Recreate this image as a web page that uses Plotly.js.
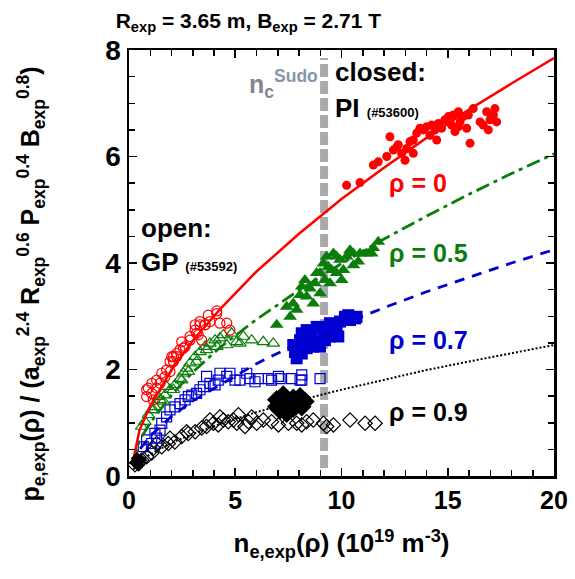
<!DOCTYPE html>
<html><head><meta charset="utf-8">
<script src="https://cdn.plot.ly/plotly-3.0.1.min.js"></script>
<style>html,body{margin:0;padding:0;background:#fff}#plot{width:575px;height:579px}</style>
</head><body><div id="plot"></div>
<script>
// ---- fit curves ----
const fitX = [0.2, 0.5, 1, 2, 3, 4.3, 6, 8, 10, 12, 14, 16, 18, 20];
const fitRho0  = [0.30, 0.87, 1.32, 1.99, 2.54, 3.14, 3.84, 4.55, 5.20, 5.79, 6.35, 6.88, 7.37, 7.85];
const fitRho05 = [0.25, 0.67, 1.00, 1.52, 1.95, 2.42, 2.94, 3.49, 3.99, 4.45, 4.88, 5.29, 5.68, 6.05];
const fitRho07 = [0.20, 0.50, 0.75, 1.12, 1.41, 1.72, 2.11, 2.50, 2.84, 3.16, 3.46, 3.73, 4.00, 4.25];
const fitRho09 = [0.12, 0.27, 0.41, 0.62, 0.79, 0.98, 1.20, 1.42, 1.62, 1.81, 1.99, 2.15, 2.31, 2.46];

// ---- Sudo limit line ----
const sudoX = [9.18, 9.18];
const sudoY = [0.15, 7.85];

// ---- GP (#53592), open symbols ----
const gp0X = [4.13,3.81,3.58,3.34,3.11,3.26,2.87,3.42,2.64,2.40,2.24,2.01,2.09,4.13,3.73,3.34,3.58,3.11,4.28,4.75,4.60,3.18,2.87,2.48,2.56,2.24,2.09,1.93,1.77,1.54,1.30,1.07,0.91,0.83,0.83,1.07,1.30,1.14,1.46,1.69,1.93];
const gp0Y = [3.10,2.90,2.84,2.84,2.74,2.65,2.55,2.55,2.43,2.37,2.24,2.24,2.15,3.05,3.02,2.90,2.84,2.84,2.87,2.74,2.87,2.68,2.62,2.52,2.40,2.30,2.24,2.15,1.99,1.93,1.80,1.74,1.65,1.62,1.49,1.55,1.65,1.43,1.74,1.86,1.96];

const gp05X = [6.79,6.32,5.77,5.38,5.07,4.83,4.44,4.28,4.05,3.81,3.58,3.34,3.11,2.87,2.71,2.56,2.40,2.16,1.93,1.69,1.46,1.22,1.07,0.91,0.75,0.60,5.22,4.60,4.13,3.65,3.18,2.79,2.48,2.09,1.62,1.15,1.38,1.77];
const gp05Y = [2.49,2.52,2.55,2.62,2.52,2.68,2.65,2.59,2.55,2.49,2.43,2.33,2.24,2.12,2.02,1.93,1.83,1.71,1.62,1.52,1.43,1.30,1.24,1.15,1.02,0.93,2.49,2.46,2.43,2.37,2.15,1.96,1.80,1.62,1.40,1.24,1.49,1.68];

const gp07X = [8.99,8.13,8.05,7.65,7.11,7.03,6.56,6.09,5.69,5.54,5.22,4.99,4.60,4.20,4.05,4.28,3.81,3.50,3.34,3.18,2.95,2.79,2.64,2.40,2.16,1.93,1.77,1.54,1.46,1.22,0.83,0.67,1.30,1.07,3.65,4.75,5.93,8.13,6.71];
const gp07Y = [1.83,1.90,1.80,1.83,1.83,1.87,1.83,1.83,1.83,1.93,1.80,1.80,1.87,1.80,1.71,1.93,1.74,1.68,1.62,1.55,1.52,1.49,1.43,1.36,1.30,1.24,1.11,0.99,0.86,0.80,0.68,0.55,0.71,0.61,1.87,1.93,1.77,1.80,1.80];

const gp09X = [11.58,11.11,10.40,9.62,9.15,8.67,8.13,7.89,7.50,7.03,6.71,6.32,6.01,5.62,5.46,5.15,4.91,4.67,4.44,4.20,3.97,3.65,3.42,3.11,2.79,2.48,2.16,1.85,1.54,1.30,1.07,0.83,0.60,0.44,0.28,5.07,5.77,8.36,9.30,3.81,4.28,2.71,1.93,1.15];
const gp09Y = [0.99,0.99,1.05,0.96,0.99,1.05,0.96,0.99,0.99,0.96,1.02,1.05,0.99,1.02,0.93,1.15,1.05,1.02,1.05,0.96,0.99,0.93,0.90,0.83,0.80,0.74,0.64,0.61,0.55,0.61,0.43,0.36,0.30,0.24,0.21,0.99,1.11,1.02,0.93,1.05,1.11,0.83,0.71,0.52];

// ---- PI (#53600), filled symbols ----
const pi0X = [10.24,10.87,11.50,11.73,12.13,12.28,12.44,12.67,12.83,12.99,13.07,13.22,13.38,13.54,13.69,13.85,14.01,14.16,14.24,14.40,14.56,14.71,14.87,15.03,15.18,15.26,15.34,15.50,15.58,15.73,15.89,15.97,16.05,16.20,16.52,16.67,16.83,16.91,16.99,17.15,17.22,17.30,15.50,14.48,13.38,12.60];
const pi0Y = [5.46,5.51,5.84,5.90,6.00,6.37,6.12,6.22,6.06,5.93,6.15,6.28,6.31,6.44,6.53,6.50,6.56,6.40,6.59,6.50,6.62,6.53,6.69,6.75,6.59,6.78,6.47,6.84,6.65,6.75,6.53,6.78,6.25,6.90,6.65,6.59,6.84,6.50,6.69,6.78,6.90,6.65,6.56,6.31,6.06,6.18];

const pi05X = [6.95,7.58,7.42,7.73,8.05,8.28,8.52,8.75,8.67,8.99,8.99,9.22,9.30,9.38,9.54,9.62,9.77,9.93,10.01,10.24,10.40,10.56,10.79,10.87,11.18,11.50,11.73,8.13,8.83,9.77,9.15,8.36,7.89,10.09,9.46,10.56,11.42];
const pi05Y = [2.84,2.99,3.18,3.24,3.40,3.68,3.52,3.62,3.24,3.43,3.81,3.68,4.12,3.93,3.87,4.18,3.81,4.06,3.68,4.12,4.24,3.96,4.03,4.18,4.18,4.28,4.40,3.56,3.81,4.12,3.99,3.37,3.12,3.87,3.62,4.18,4.18];

const pi07X = [7.89,7.81,7.73,8.05,8.13,8.36,8.60,8.83,8.99,9.15,9.30,9.46,9.62,9.77,9.93,10.16,10.40,10.64,10.71,8.36,8.67,8.99,8.13,9.46,9.85,10.32,9.22];
const pi07Y = [2.21,2.33,2.46,2.55,2.68,2.74,2.62,2.80,2.52,2.68,2.80,2.87,2.74,2.80,2.90,2.99,2.93,2.96,2.99,2.40,2.43,2.43,2.30,2.62,2.62,3.02,2.55];

const pi09X = [6.95,7.26,7.42,7.73,8.05,8.28,7.11,7.42,7.73,7.89,7.58,7.26,8.13,6.95];
const pi09Y = [1.43,1.52,1.36,1.46,1.49,1.40,1.24,1.18,1.27,1.33,1.30,1.33,1.30,1.30];
const pi09LowX = [0.30, 0.45, 0.55, 0.38];
const pi09LowY = [0.25, 0.20, 0.30, 0.33];

// ---- labels ----
const rhoLabels = ['ρ = 0', 'ρ = 0.5', 'ρ = 0.7', 'ρ = 0.9'];
const xRange = [0, 20], xStep = 5, xMinorStep = 1;
const yRange = [0, 8], yStep = 2, yMinorStep = 0.5;

const RED = '#ff0000', GREEN = '#0a7d0a', BLUE = '#0000d0', BLACK = '#000000';
const FONT = 'Liberation Sans, Arial, sans-serif';

function line(x, y, color, dash, width) {
  return {x, y, mode: 'lines', type: 'scatter', hoverinfo: 'skip',
          line: {color, dash, width}, showlegend: false};
}
function pts(x, y, symbol, color, size, open) {
  return {x, y, mode: 'markers', type: 'scatter', showlegend: false,
          marker: {symbol, size, color: color,
                   line: {color, width: open ? 1.2 : 0}}};
}

const traces = [
  line(sudoX, sudoY, '#aaaaaa', '13px,4px', 8),
  pts(gp09X, gp09Y, 'diamond-open', BLACK, 11, true),
  pts(gp07X, gp07Y, 'square-open', BLUE, 10, true),
  pts(gp05X, gp05Y, 'triangle-up-open', GREEN, 11, true),
  pts(gp0X, gp0Y, 'circle-open', RED, 10, true),
  line(fitX, fitRho09, BLACK, '2px,2px', 2),
  line(fitX, fitRho07, BLUE, '10px,8px', 2.8),
  line(fitX, fitRho05, GREEN, '14px,5px,4px,5px', 2.8),
  line(fitX, fitRho0, RED, 'solid', 2.5),
  pts(pi09X, pi09Y, 'diamond', BLACK, 15, false),
  pts(pi09LowX, pi09LowY, 'diamond', BLACK, 10, false),
  pts(pi07X, pi07Y, 'square', BLUE, 12, false),
  pts(pi05X, pi05Y, 'triangle-up', GREEN, 12, false),
  pts(pi0X, pi0Y, 'circle', RED, 9, false)
];

const annFont = (size, color) => ({family: FONT, size, color, weight: 'bold'});
const annotations = [
  {x: 9.62, y: 7.59, text: 'closed:', font: annFont(26, '#000')},
  {x: 9.62, y: 6.91, text: 'PI <span style="font-size:13px">(#53600)</span>', font: annFont(26, '#000')},
  {x: 0.45, y: 4.66, text: 'open:', font: annFont(26, '#000')},
  {x: 0.45, y: 4.02, text: 'GP <span style="font-size:13px">(#53592)</span>', font: annFont(26, '#000')},
  {x: 12.15, y: 5.50, text: rhoLabels[0], font: annFont(25, RED)},
  {x: 12.15, y: 4.19, text: rhoLabels[1], font: annFont(25, GREEN)},
  {x: 12.15, y: 2.55, text: rhoLabels[2], font: annFont(25, BLUE)},
  {x: 12.15, y: 1.20, text: rhoLabels[3], font: annFont(25, BLACK)},
  {x: 5.55, y: 7.36, text: 'n<sub>c</sub><sup><span style="color:#8797ab">Sudo</span></sup>', font: annFont(25, '#85858f')}
].map(a => Object.assign({xref: 'x', yref: 'y', xanchor: 'left', yanchor: 'middle', showarrow: false}, a));

// y-axis title, placed as a rotated annotation to match the reference position
annotations.push({
  xref: 'paper', yref: 'paper', x: -0.23, y: 0.45, xanchor: 'center', yanchor: 'middle',
  textangle: -90, showarrow: false,
  text: 'p<sub>e,exp</sub>(ρ) / (a<sub>exp</sub><sup>2.4</sup> R<sub>exp</sub><sup>0.6</sup> P<sub>exp</sub><sup>0.4</sup> B<sub>exp</sub><sup>0.8</sup>)',
  font: {family: FONT, size: 25, color: '#000', weight: 'bold'}
});

const TICKC = '#000000';
const layout = {
  width: 575, height: 579,
  margin: {l: 129, r: 21, t: 50, b: 103},
  paper_bgcolor: '#fff', plot_bgcolor: '#fff',
  showlegend: false,
  title: {
    text: 'R<sub>exp</sub> = 3.65 m, B<sub>exp</sub> = 2.71 T',
    font: {family: FONT, size: 21, color: '#000', weight: 'bold'},
    x: 0.432, xanchor: 'center', y: 0.965, yanchor: 'middle'
  },
  xaxis: {
    range: xRange, tickmode: 'linear', tick0: 0, dtick: xStep,
    showline: true, linewidth: 2.5, linecolor: '#000', mirror: 'allticks',
    ticks: 'inside', ticklen: 8, tickwidth: 1.8, tickcolor: TICKC,
    showgrid: false, zeroline: false,
    minor: {dtick: xMinorStep, ticks: 'inside', ticklen: 6, tickwidth: 1.5, tickcolor: TICKC},
    tickfont: {family: FONT, size: 25, color: '#000', weight: 'bold'},
    title: {text: 'n<sub>e,exp</sub>(ρ) (10<sup>19</sup> m<sup>-3</sup>)',
            font: {family: FONT, size: 26, color: '#000', weight: 'bold'}, standoff: 22}
  },
  yaxis: {
    range: yRange, tickmode: 'linear', tick0: 0, dtick: yStep,
    showline: true, linewidth: 2.5, linecolor: '#000', mirror: 'allticks',
    ticks: 'inside', ticklen: 8, tickwidth: 1.8, tickcolor: TICKC,
    showgrid: false, zeroline: false,
    minor: {dtick: yMinorStep, ticks: 'inside', ticklen: 6, tickwidth: 1.5, tickcolor: TICKC},
    tickfont: {family: FONT, size: 28, color: '#000', weight: 'bold'}
  },
  annotations
};

Plotly.newPlot('plot', traces, layout, {staticPlot: true, displayModeBar: false});
</script></body></html>
